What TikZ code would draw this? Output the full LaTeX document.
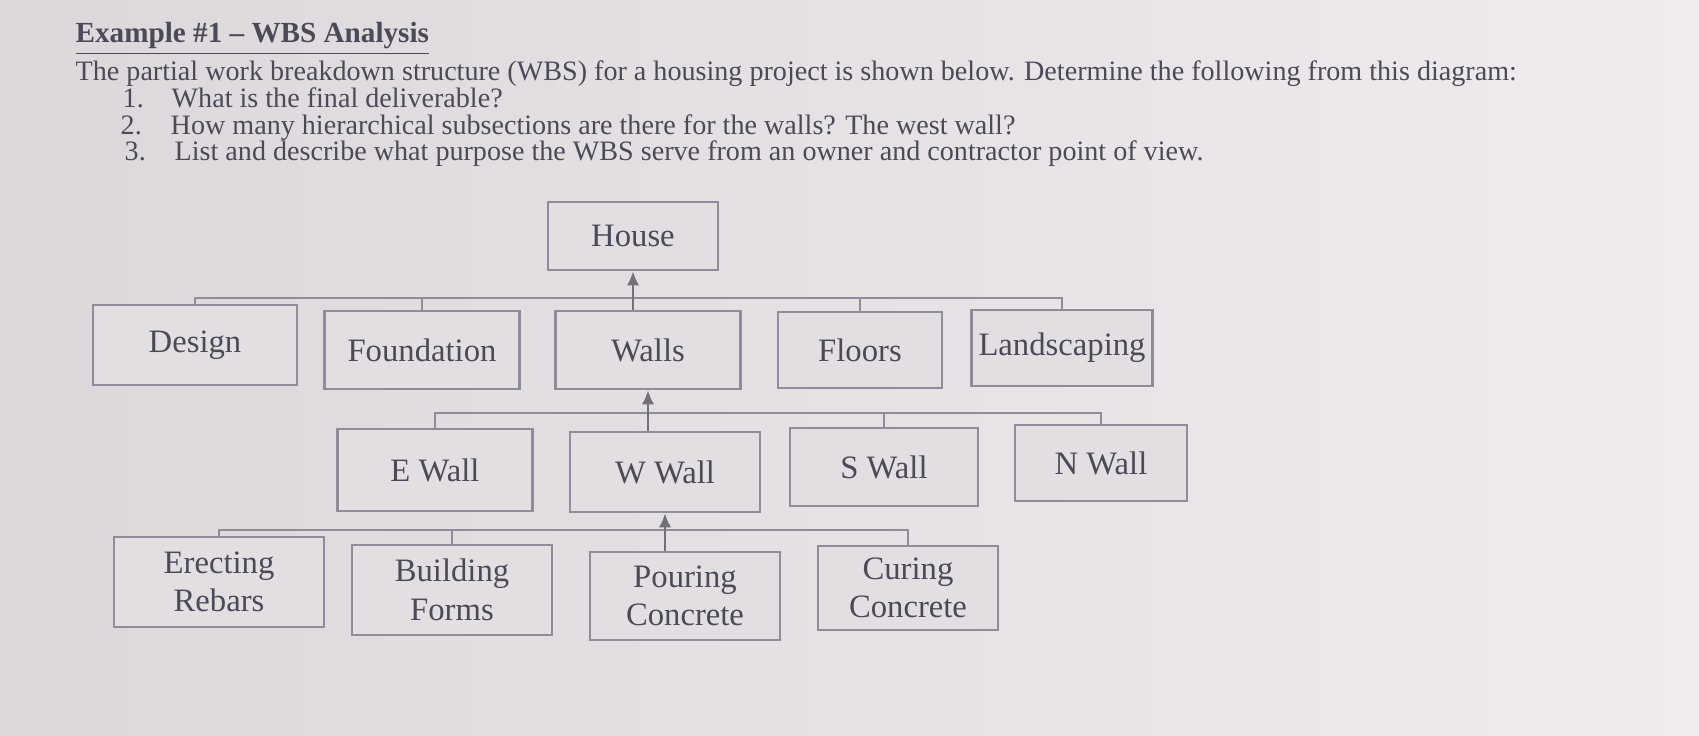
\documentclass[tikz,border=0pt]{standalone}
\usepackage{fontspec}
\setmainfont{Liberation Serif}
\usepackage{xcolor}
\usetikzlibrary{arrows.meta}

\definecolor{paperL}{HTML}{DCD7DB}
\definecolor{paperR}{HTML}{EFEBEE}
\definecolor{boxfill}{HTML}{E2DEE2}
\definecolor{boxline}{HTML}{8E8D99}
\definecolor{ink}{HTML}{4B4A56}

\begin{document}
\begin{tikzpicture}[
	wbs/.style={draw=boxline, fill=boxfill, line width=0.7pt, align=center, inner sep=2pt,
		text=ink, font=\fontsize{9.3}{11}\selectfont},
	wire/.style={draw=boxline, line width=0.7pt},
	uparrow/.style={draw=boxline!80!black, line width=0.7pt, -{Latex[length=4pt,width=3.5pt]}},
	body/.style={anchor=base west, text=ink, inner sep=0pt, font=\fontsize{8}{9}\selectfont}
]
	
	% paper
	\shade[left color=paperL, right color=paperR] (0,0) rectangle (16.99,-7.36);
	\useasboundingbox (0,0) rectangle (16.99,-7.36);
	
	% heading and questions
	\node[body, font=\bfseries\fontsize{8.3}{9}\selectfont] (title) at (0.75,-0.42) {\underline{Example \#1 -- WBS Analysis}};
	\node[body] (intro) at (0.75,-0.80) {The partial work breakdown structure (WBS) for a housing project is shown below. Determine the following from this diagram:};
	\node[body] (n1) at (1.22,-1.07) {1.};
	\node[body] (q1) at (1.71,-1.07) {What is the final deliverable?};
	\node[body] (n2) at (1.20,-1.34) {2.};
	\node[body] (q2) at (1.70,-1.34) {How many hierarchical subsections are there for the walls? The west wall?};
	\node[body] (n3) at (1.24,-1.61) {3.};
	\node[body] (q3) at (1.74,-1.61) {List and describe what purpose the WBS serve from an owner and contractor point of view.};
	
	% level 0
	\node[wbs, minimum width=1.70cm, minimum height=0.68cm] (house) at (6.33,-2.36) {House};
	
	% level 1
	\coordinate (bus1) at (0,-2.98);
	\node[wbs, minimum width=2.04cm, minimum height=0.80cm] (design) at (1.95,-3.45) {Design};
	\node[wbs, minimum width=1.95cm, minimum height=0.78cm] (foundation) at (4.22,-3.50) {Foundation};
	\node[wbs, minimum width=1.85cm, minimum height=0.78cm] (walls) at (6.48,-3.50) {Walls};
	\node[wbs, minimum width=1.64cm, minimum height=0.76cm] (floors) at (8.60,-3.50) {Floors};
	\node[wbs, minimum width=1.80cm, minimum height=0.76cm] (landscaping) at (10.62,-3.48) {Landscaping};
	
	\draw[wire] (design.north) |- (landscaping.north |- bus1) -- (landscaping.north);
	\draw[wire] (foundation.north) -- (foundation.north |- bus1);
	\draw[wire] (floors.north) -- (floors.north |- bus1);
	\draw[uparrow] (house.south |- walls.north) -- (house.south);
	
	% level 2
	\coordinate (bus2) at (0,-4.13);
	\node[wbs, minimum width=1.95cm, minimum height=0.82cm] (ewall) at (4.35,-4.70) {E Wall};
	\node[wbs, minimum width=1.90cm, minimum height=0.80cm] (wwall) at (6.65,-4.72) {W Wall};
	\node[wbs, minimum width=1.88cm, minimum height=0.78cm] (swall) at (8.84,-4.67) {S Wall};
	\node[wbs, minimum width=1.72cm, minimum height=0.76cm] (nwall) at (11.01,-4.63) {N Wall};
	
	\draw[wire] (ewall.north) |- (nwall.north |- bus2) -- (nwall.north);
	\draw[wire] (swall.north) -- (swall.north |- bus2);
	\draw[uparrow] (walls.south |- wwall.north) -- (walls.south);
	
	% level 3
	\coordinate (bus3) at (0,-5.30);
	\node[wbs, minimum width=2.10cm, minimum height=0.90cm] (rebars) at (2.19,-5.82) {Erecting\\Rebars};
	\node[wbs, minimum width=2.00cm, minimum height=0.90cm] (forms) at (4.52,-5.90) {Building\\Forms};
	\node[wbs, minimum width=1.90cm, minimum height=0.88cm] (pouring) at (6.85,-5.96) {Pouring\\Concrete};
	\node[wbs, minimum width=1.80cm, minimum height=0.84cm] (curing) at (9.08,-5.88) {Curing\\Concrete};
	
	\draw[wire] (rebars.north) |- (curing.north |- bus3) -- (curing.north);
	\draw[wire] (forms.north) -- (forms.north |- bus3);
	\draw[uparrow] (wwall.south |- pouring.north) -- (wwall.south);
	
\end{tikzpicture}
\end{document}
